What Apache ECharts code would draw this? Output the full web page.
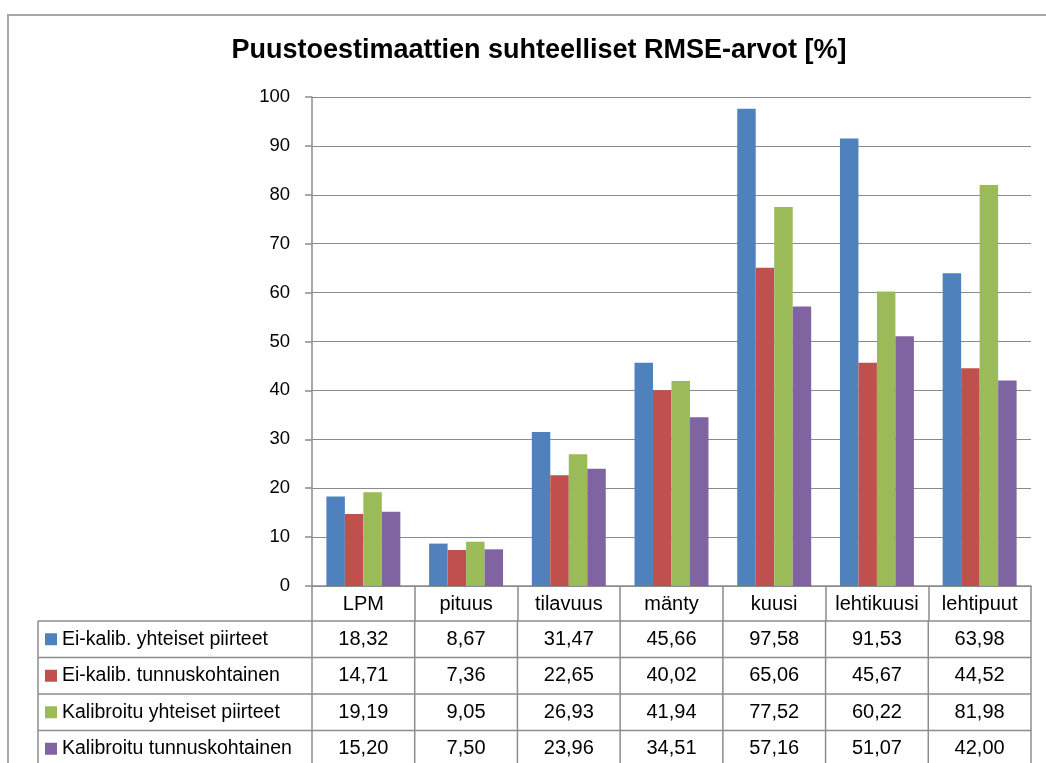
<!DOCTYPE html>
<html>
<head>
<meta charset="utf-8">
<script src="https://cdn.jsdelivr.net/npm/echarts@6/dist/echarts.min.js"></script>
<style>html,body{margin:0;padding:0;background:#fff}#c{width:1046px;height:763px}</style>
</head>
<body>
<div id="c"></div>
<script>
const titleText = 'Puustoestimaattien suhteelliset RMSE-arvot [%]';
const categories = ['LPM', 'pituus', 'tilavuus', 'mänty', 'kuusi', 'lehtikuusi', 'lehtipuut'];
const seriesNames = ['Ei-kalib. yhteiset piirteet', 'Ei-kalib. tunnuskohtainen', 'Kalibroitu yhteiset piirteet', 'Kalibroitu tunnuskohtainen'];
const eiKalibYhteiset = [18.32, 8.67, 31.47, 45.66, 97.58, 91.53, 63.98];
const eiKalibTunnus = [14.71, 7.36, 22.65, 40.02, 65.06, 45.67, 44.52];
const kalibYhteiset = [19.19, 9.05, 26.93, 41.94, 77.52, 60.22, 81.98];
const kalibTunnus = [15.20, 7.50, 23.96, 34.51, 57.16, 51.07, 42.00];
const colors = ['#4F81BD', '#C0504D', '#9BBB59', '#8064A2'];
const yMin = 0, yMax = 100, yStep = 10;

const seriesData = [eiKalibYhteiset, eiKalibTunnus, kalibYhteiset, kalibTunnus];
const FONT = 'Liberation Sans, Arial, sans-serif';
const LINE = '#8c8c8c';

const chart = echarts.init(document.getElementById('c'));
const option = {
  animation: false,
  backgroundColor: '#fff',
  title: {
    text: titleText, left: 534, top: 32, textAlign: 'center',
    textStyle: { fontFamily: FONT, fontSize: 27, fontWeight: 'bold', color: '#000' }
  },
  grid: { left: 312, right: 15, top: 97, bottom: 177, containLabel: false },
  xAxis: {
    type: 'category', data: categories, boundaryGap: true,
    axisLine: { show: true, lineStyle: { color: LINE, width: 1.5 } },
    axisTick: { show: true, interval: 0, alignWithLabel: false, length: 35, lineStyle: { color: LINE, width: 1.5 } },
    axisLabel: { interval: 0, margin: 8, fontFamily: FONT, fontSize: 20, color: '#000', lineHeight: 20 },
    splitLine: { show: false }
  },
  yAxis: {
    type: 'value', min: yMin, max: yMax, interval: yStep,
    axisLine: { show: true, lineStyle: { color: LINE, width: 1.5 } },
    axisTick: { show: true, inside: false, length: 7, lineStyle: { color: LINE, width: 1.5 } },
    axisLabel: { margin: 22, fontFamily: FONT, fontSize: 18.5, color: '#000' },
    splitLine: { show: true, lineStyle: { color: '#8a8a8a', width: 1.2 } }
  },
  series: seriesData.map((d, i) => ({
    type: 'bar', name: seriesNames[i], data: d,
    itemStyle: { color: colors[i] },
    barGap: '0%', barCategoryGap: '28%'
  }))
};
chart.setOption(option);

// Data table below the plot, positioned from the category axis scale
const c0 = chart.convertToPixel({ xAxisIndex: 0 }, 0);
const c1 = chart.convertToPixel({ xAxisIndex: 0 }, 1);
const band = c1 - c0;
const xStart = c0 - band / 2;
const xEnd = xStart + band * categories.length;
const yAxisZero = chart.convertToPixel({ yAxisIndex: 0 }, 0);
const headerH = 35;
const rowH = 36.5;
const tableTop = yAxisZero + headerH;
const legendLeft = 38;
const graphics = [];
const nRows = seriesNames.length;
const tableBottom = tableTop + rowH * nRows;

// outer chart frame
graphics.push({ type: 'rect', shape: { x: 8, y: 15, width: 1100, height: 800 },
  style: { fill: 'none', stroke: '#a6a6a6', lineWidth: 2 }, z: 0 });

for (let r = 0; r <= nRows; r++) {
  const y = tableTop + rowH * r;
  graphics.push({ type: 'line', shape: { x1: legendLeft, y1: y, x2: xEnd, y2: y },
    style: { stroke: LINE, lineWidth: 1.5 }, z: 10 });
}
graphics.push({ type: 'line', shape: { x1: legendLeft, y1: tableTop, x2: legendLeft, y2: tableBottom },
  style: { stroke: LINE, lineWidth: 1.5 }, z: 10 });
for (let k = 0; k <= categories.length; k++) {
  const x = xStart + band * k;
  graphics.push({ type: 'line', shape: { x1: x, y1: tableTop, x2: x, y2: tableBottom },
    style: { stroke: LINE, lineWidth: 1.5 }, z: 10 });
}
for (let r = 0; r < nRows; r++) {
  const yc = tableTop + rowH * r + rowH / 2;
  graphics.push({ type: 'rect', shape: { x: 45, y: yc - 6, width: 12, height: 12 },
    style: { fill: colors[r] }, z: 10 });
  graphics.push({ type: 'text', x: 62, y: yc,
    style: { text: seriesNames[r], fontFamily: FONT, fontSize: 19.5, fill: '#000',
      textAlign: 'left', textVerticalAlign: 'middle' }, z: 10 });
  for (let k = 0; k < categories.length; k++) {
    const xc = chart.convertToPixel({ xAxisIndex: 0 }, k);
    graphics.push({ type: 'text', x: xc, y: yc,
      style: { text: seriesData[r][k].toFixed(2).replace('.', ','), fontFamily: FONT, fontSize: 20,
        fill: '#000', textAlign: 'center', textVerticalAlign: 'middle' }, z: 10 });
  }
}
chart.setOption({ graphic: graphics });
</script>
</body>
</html>
